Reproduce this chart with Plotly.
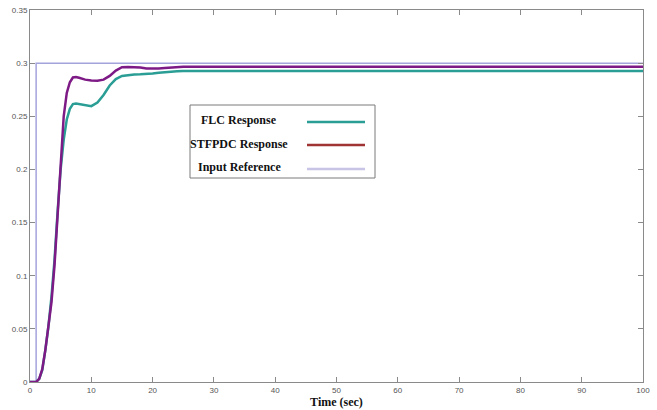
import plotly.graph_objects as go

# ---- data ----
t_resp = [0, 1, 1.5, 2, 2.5, 3, 3.5, 4, 4.5, 5, 5.5, 6, 6.5, 7, 7.5, 8, 9, 10, 11, 12, 13, 14,
          15, 16, 17, 18, 19, 20, 21, 22, 23, 24, 25, 30, 40, 50, 60, 70, 80, 90, 100]
flc = [0, 0, 0.003, 0.011, 0.03, 0.052, 0.08, 0.115, 0.16, 0.2, 0.228, 0.247, 0.257, 0.2615,
       0.262, 0.2615, 0.2598, 0.2595, 0.263, 0.27, 0.279, 0.285, 0.288, 0.2888, 0.2893, 0.2895,
       0.2897, 0.2902, 0.291, 0.2916, 0.292, 0.2923, 0.2925, 0.2925, 0.2925, 0.2925, 0.2925,
       0.2925, 0.2925, 0.2925, 0.2925]
stfpdc = [0, 0, 0.003, 0.012, 0.03, 0.05, 0.075, 0.11, 0.16, 0.21, 0.25, 0.272, 0.282, 0.2865,
          0.287, 0.2862, 0.2845, 0.2837, 0.2835, 0.2845, 0.288, 0.293, 0.2962, 0.2964, 0.2963,
          0.2958, 0.295, 0.2948, 0.295, 0.2955, 0.296, 0.2963, 0.2965, 0.2965, 0.2965, 0.2965,
          0.2965, 0.2965, 0.2965, 0.2965, 0.2965]
t_ref = [0, 1, 1, 100]
ref = [0, 0, 0.3, 0.3]

x_ticks = [0, 10, 20, 30, 40, 50, 60, 70, 80, 90, 100]
y_ticks = [0, 0.05, 0.1, 0.15, 0.2, 0.25, 0.3, 0.35]
y_labels = ["0", "0.05", "0.1", "0.15", "0.2", "0.25", "0.3", "0.35"]

legend_names = ["FLC Response", "STFPDC Response", "Input Reference"]
legend_colors = ["#2a9d94", "#a03434", "#c8c4e6"]

# ---- figure ----
fig = go.Figure()
fig.add_trace(go.Scatter(x=t_ref, y=ref, mode="lines",
                         line=dict(color="#a4a4dc", width=1.5), showlegend=False))
fig.add_trace(go.Scatter(x=t_resp, y=flc, mode="lines",
                         line=dict(color="#2a9d94", width=2.5), showlegend=False))
fig.add_trace(go.Scatter(x=t_resp, y=stfpdc, mode="lines",
                         line=dict(color="#7e1a86", width=2.5), showlegend=False))

# manual legend (text left, line sample right)
x0p, x1p = 30, 643
y0p, y1p = 382, 10
def px(x):
    return (x - x0p) / (x1p - x0p)
def py(y):
    return (y0p - y) / (y0p - y1p)

shapes = [dict(type="rect", xref="paper", yref="paper", x0=px(190), x1=px(375),
               y0=py(178), y1=py(105), line=dict(color="#7a7a7a", width=1),
               fillcolor="white", layer="above")]
annotations = []
rows_text = [120, 144, 167]
rows_line = [122, 145, 169]
for name, col, yt, yl in zip(legend_names, legend_colors, rows_text, rows_line):
    annotations.append(dict(text="<b>" + name + "</b>", xref="paper", yref="paper",
                            x=px(239), y=py(yt), xanchor="center", yanchor="middle",
                            showarrow=False,
                            font=dict(family="Liberation Serif", size=12, color="#111")))
    shapes.append(dict(type="line", xref="paper", yref="paper", x0=px(307), x1=px(365),
                       y0=py(yl), y1=py(yl), line=dict(color=col, width=2.5), layer="above"))

axis_common = dict(showline=True, linecolor="#8a8a8a", linewidth=1, mirror="ticks",
                   ticks="inside", ticklen=5, tickcolor="#8a8a8a", showgrid=False,
                   zeroline=False, automargin=False,
                   tickfont=dict(family="Liberation Sans", size=8, color="#555"))

fig.update_layout(
    width=657, height=410,
    margin=dict(l=30, r=14, t=10, b=28),
    paper_bgcolor="white", plot_bgcolor="white",
    xaxis=dict(range=[0, 100], tickvals=x_ticks, ticktext=[str(v) for v in x_ticks],
               title=dict(text="<b>Time (sec)</b>", standoff=1,
                          font=dict(family="Liberation Serif", size=12, color="#111")),
               **axis_common),
    yaxis=dict(range=[0, 0.35], tickvals=y_ticks, ticktext=y_labels, **axis_common),
    shapes=shapes, annotations=annotations, showlegend=False,
)

fig.write_html("out.html", config={"displayModeBar": False},
               post_script="document.body.style.margin='0';document.body.style.overflow='hidden';")
